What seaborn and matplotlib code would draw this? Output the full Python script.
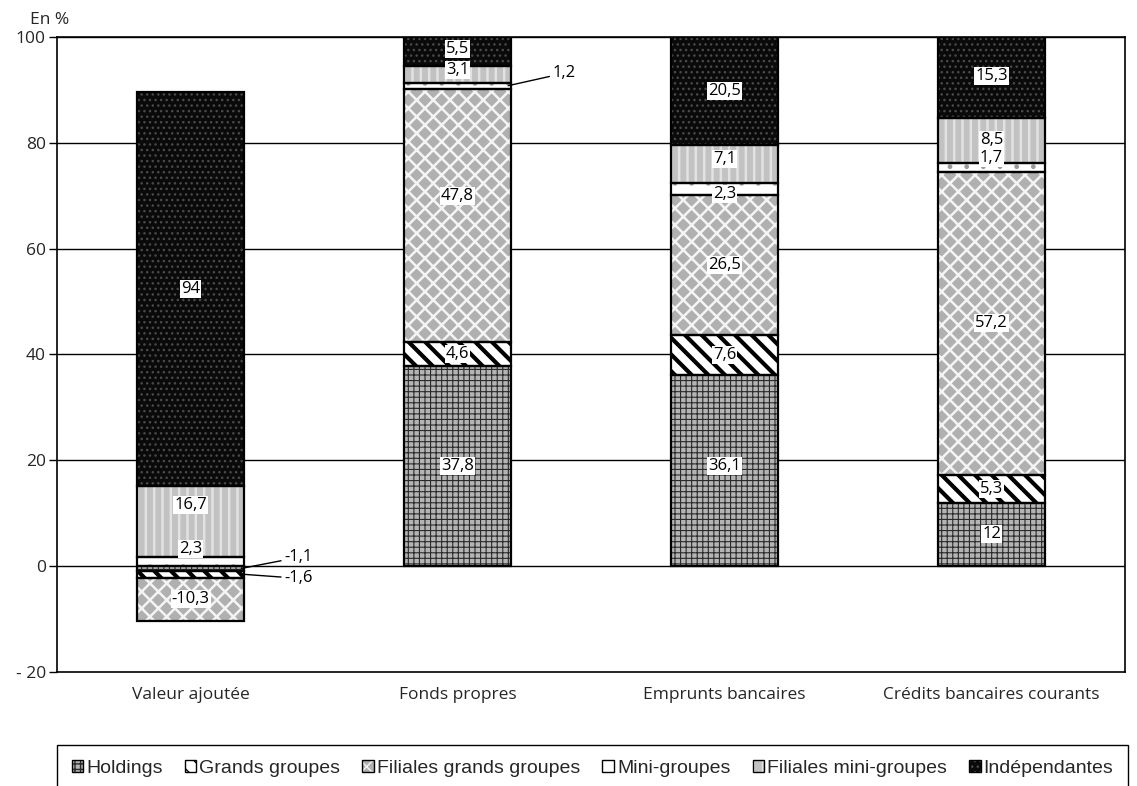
import numpy as np
import matplotlib
matplotlib.use("Agg")
import matplotlib.pyplot as plt
from matplotlib.patches import Patch
from matplotlib.legend_handler import HandlerTuple
import seaborn as sns

categories = ["Valeur ajoutée", "Fonds propres", "Emprunts bancaires",
              "Crédits bancaires courants"]
series_names = ["Holdings", "Grands groupes", "Filiales grands groupes",
                "Mini-groupes", "Filiales mini-groupes", "Indépendantes"]
holdings = [-1.1, 37.8, 36.1, 12]
grands_groupes = [-1.6, 4.6, 7.6, 5.3]
filiales_grands_groupes = [-10.3, 47.8, 26.5, 57.2]
mini_groupes = [2.3, 1.2, 2.3, 1.7]
filiales_mini_groupes = [16.7, 3.1, 7.1, 8.5]
independantes = [94, 5.5, 20.5, 15.3]
y_ticks = [-20, 0, 20, 40, 60, 80, 100]
y_tick_labels = ["- 20", "0", "20", "40", "60", "80", "100"]

sns.set_theme(style="white")
plt.rcParams["font.family"] = ["Open Sans", "DejaVu Sans"]

values = np.array([holdings, grands_groupes, filiales_grands_groupes,
                   mini_groupes, filiales_mini_groupes, independantes], dtype=float)
# each column is drawn as a share of its gross total (positive and negative parts)
gross = np.abs(values).sum(axis=0)
heights = values / gross * 100

# fill pattern per series: face colour, hatch, hatch colour, hatch line width
styles = [
    dict(face="#b4b4b4", hatch="+++", hcolor="#2a2a2a", hlw=0.8),
    dict(face="white", hatch="\\\\", hcolor="black", hlw=3.0),
    dict(face="#b0b0b0", hatch="xx", hcolor="#f4f4f4", hlw=1.8),
    dict(face="white", hatch=".", hcolor="#9a9a9a", hlw=1.0),
    dict(face="#c2c2c2", hatch="||", hcolor="#e2e2e2", hlw=1.8),
    dict(face="#0a0a0a", hatch="...", hcolor="#4a4a4a", hlw=1.0),
]

fig = plt.figure(figsize=(11.37, 7.86), dpi=100)
ax = fig.add_axes([57 / 1137, 1 - 672 / 786, (1125 - 57) / 1137, (672 - 37) / 786])

xpos = np.arange(len(categories))
bar_w = 0.4
pos_base = np.zeros(len(categories))
neg_base = np.zeros(len(categories))
bottoms = []
for i, st in enumerate(styles):
    h = heights[i]
    bottom = np.where(h >= 0, pos_base, neg_base)
    bottoms.append(bottom.copy())
    with plt.rc_context({"hatch.linewidth": st["hlw"]}):
        sns.barplot(x=categories, y=h, bottom=bottom, width=bar_w, color=st["face"],
                    saturation=1, edgecolor=st["hcolor"], linewidth=0,
                    hatch=st["hatch"], ax=ax, zorder=2)
    ax.bar(xpos, h, bottom=bottom, width=bar_w, fill=False, edgecolor="black",
           linewidth=1.6, zorder=3)
    pos_base = pos_base + np.where(h >= 0, h, 0)
    neg_base = neg_base + np.where(h < 0, h, 0)


def fmt(v):
    return f"{v:g}".replace(".", ",")


# vertical label offsets (points) where labels would otherwise collide
nudges = {(4, 0): 12, (3, 0): 9, (2, 1): 14, (4, 1): 3, (5, 1): 1.5,
          (4, 2): 3.5, (3, 2): -3.5, (0, 2): 3.5, (3, 3): 6.5, (5, 3): 1}
# labels placed beside the bar with a leader line: (dx, dy) in points
leaders = {(0, 0): (31, 8), (1, 0): (31, -3), (3, 1): (32, 9)}

for i in range(len(series_names)):
    for j in range(len(categories)):
        yc = bottoms[i][j] + heights[i][j] / 2
        txt = fmt(values[i][j])
        if (i, j) in leaders:
            dx, dy = leaders[(i, j)]
            ax.annotate(txt, xy=(xpos[j] + bar_w / 2 - 0.01, yc), xytext=(dx, dy),
                        textcoords="offset points", ha="left", va="center",
                        fontsize=12, color="black", zorder=6,
                        arrowprops=dict(arrowstyle="-", color="black", lw=1,
                                        shrinkA=0, shrinkB=0))
        else:
            ax.annotate(txt, xy=(xpos[j], yc), xytext=(0, nudges.get((i, j), 0)),
                        textcoords="offset points", ha="center", va="center",
                        fontsize=12, color="black", zorder=6,
                        bbox=dict(boxstyle="square,pad=0.06", facecolor="white",
                                  edgecolor="none"))

ax.set_xlim(-0.5, len(categories) - 0.5)
ax.set_ylim(-20, 100)
ax.set_yticks(y_ticks)
ax.set_yticklabels(y_tick_labels, fontsize=12.5)
ax.set_xticks(xpos)
ax.set_xticklabels(categories, fontsize=12.5)
ax.tick_params(axis="y", length=6, width=1, color="black", pad=2, left=True)
ax.tick_params(axis="x", length=0, pad=11)
ax.set_xlabel("")
ax.set_ylabel("")
for y in y_ticks[1:]:
    ax.axhline(y, color="black", lw=1, zorder=1)
for sp in ax.spines.values():
    sp.set_visible(True)
    sp.set_color("black")
    sp.set_linewidth(1.2)

fig.text(30 / 1137, 1 - 20 / 786, "En %", fontsize=12.5, ha="left", va="center")

handles = []
for st in styles:
    with plt.rc_context({"hatch.linewidth": min(st["hlw"], 1.2)}):
        fillp = Patch(facecolor=st["face"], edgecolor=st["hcolor"], hatch=st["hatch"],
                      linewidth=0)
    outline = Patch(fill=False, edgecolor="black", linewidth=1)
    handles.append((fillp, outline))

leg = fig.legend(handles, series_names, loc="upper left",
                 bbox_to_anchor=(57 / 1137, 1 - 745 / 786 - 0.01, (1128 - 57) / 1137, 0.01),
                 mode="expand", ncol=6, frameon=True, fancybox=False,
                 edgecolor="black", borderaxespad=0, borderpad=0.75,
                 handlelength=0.6, handleheight=0.6, handletextpad=0.15,
                 columnspacing=1.0,
                 handler_map={tuple: HandlerTuple(ndivide=1)},
                 prop={"family": ["Liberation Sans", "DejaVu Sans"], "size": 14})
leg.get_frame().set_linewidth(1)
leg.get_frame().set_alpha(1)

fig.savefig("out.png", dpi=100, facecolor="white")
